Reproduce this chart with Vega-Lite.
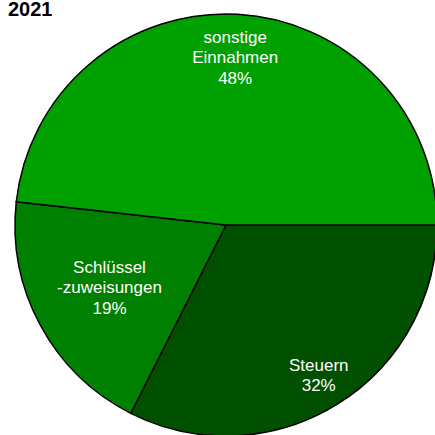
{
  "$schema": "https://vega.github.io/schema/vega-lite/v6.json",
  "autosize": "none",
  "width": 418,
  "height": 420,
  "padding": {"left": 17, "top": 15, "right": 0, "bottom": 0},
  "background": "white",
  "title": {
    "text": "2021",
    "anchor": "start",
    "frame": "group",
    "dx": -9,
    "dy": 8.5,
    "offset": 0,
    "font": "Liberation Sans",
    "fontSize": 20,
    "fontWeight": "bold",
    "color": "#000000"
  },
  "view": {"stroke": null},
  "data": {
    "values": [
      {"Kategorie": "Steuern", "Anteil": 32.45, "Rang": 1, "Beschriftung": "Steuern\n32%"},
      {"Kategorie": "Schlüsselzuweisungen", "Anteil": 19.3, "Rang": 2, "Beschriftung": "Schlüssel\n-zuweisungen\n19%"},
      {"Kategorie": "sonstige Einnahmen", "Anteil": 48.25, "Rang": 3, "Beschriftung": "sonstige\nEinnahmen\n48%"}
    ]
  },
  "encoding": {
    "theta": {"field": "Anteil", "type": "quantitative", "stack": true, "scale": {"range": [1.5707963, 7.8539816]}},
    "order": {"field": "Rang", "type": "quantitative"}
  },
  "layer": [
    {
      "mark": {"type": "arc", "outerRadius": 211, "stroke": "#000000", "strokeWidth": 1.5},
      "encoding": {
        "color": {
          "field": "Kategorie",
          "type": "nominal",
          "legend": null,
          "scale": {
            "domain": ["Steuern", "Schlüsselzuweisungen", "sonstige Einnahmen"],
            "range": ["#005000", "#008000", "#00A000"]
          }
        }
      }
    },
    {
      "mark": {
        "type": "text",
        "radius": {"expr": "datum.Kategorie == 'Steuern' ? 177 : datum.Kategorie == 'sonstige Einnahmen' ? 167 : 132.5"},
        "dy": {"expr": "datum.Kategorie == 'Steuern' ? -10.25 : -20.5"},
        "lineBreak": "\n",
        "lineHeight": 20.5,
        "font": "Liberation Sans",
        "fontSize": 17,
        "fill": "#ffffff",
        "align": "center",
        "baseline": "middle"
      },
      "encoding": {
        "text": {"field": "Beschriftung", "type": "nominal"}
      }
    }
  ]
}
